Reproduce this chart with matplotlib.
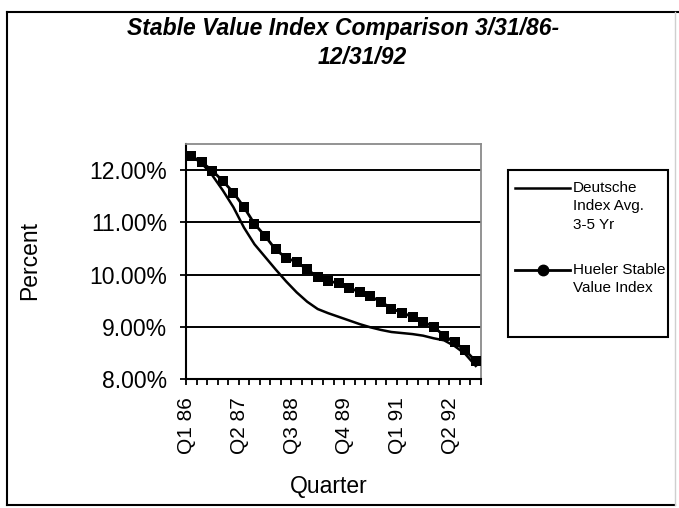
import matplotlib
matplotlib.use('Agg')

import matplotlib.pyplot as plt
from matplotlib.lines import Line2D
from matplotlib.patches import Rectangle
from matplotlib.transforms import ScaledTranslation
import numpy as np

plt.rcParams.update({
    'font.family': ['Liberation Sans', 'DejaVu Sans'],
    'axes.linewidth': 1.5,
})

quarters = ['Q1 86', 'Q2 86', 'Q3 86', 'Q4 86',
            'Q1 87', 'Q2 87', 'Q3 87', 'Q4 87',
            'Q1 88', 'Q2 88', 'Q3 88', 'Q4 88',
            'Q1 89', 'Q2 89', 'Q3 89', 'Q4 89',
            'Q1 90', 'Q2 90', 'Q3 90', 'Q4 90',
            'Q1 91', 'Q2 91', 'Q3 91', 'Q4 91',
            'Q1 92', 'Q2 92', 'Q3 92', 'Q4 92']
labelled = ['Q1 86', 'Q2 87', 'Q3 88', 'Q4 89', 'Q1 91', 'Q2 92']

deutsche = [12.27, 12.13, 11.90, 11.61, 11.29, 10.90, 10.58, 10.34,
            10.10, 9.87, 9.66, 9.48, 9.34, 9.26, 9.19, 9.12,
            9.05, 8.99, 8.94, 8.90, 8.88, 8.86, 8.83, 8.78,
            8.74, 8.63, 8.48, 8.25]
hueler = [12.27, 12.15, 11.99, 11.79, 11.57, 11.29, 10.97, 10.74,
          10.48, 10.32, 10.24, 10.10, 9.95, 9.87, 9.84, 9.75,
          9.66, 9.58, 9.48, 9.35, 9.27, 9.19, 9.10, 9.00,
          8.83, 8.70, 8.55, 8.34]

W, H = 679, 508
fig = plt.figure(figsize=(W / 100, H / 100), dpi=100)
ax = fig.add_axes([186 / W, 1 - 379 / H, 295 / W, 235 / H])

x = np.arange(len(quarters))
ax.plot(x, deutsche, color='black', lw=1.8, zorder=3)
ax.plot(x, hueler, color='black', lw=2.0, marker='s', markersize=7.5,
        markeredgewidth=0, zorder=4)

ax.set_xlim(-0.5, len(quarters) - 0.5)
ax.set_ylim(8, 12.5)
ax.set_yticks([8, 9, 10, 11, 12])
ax.set_yticklabels([f'{v:.2f}%' for v in [8, 9, 10, 11, 12]])
ax.yaxis.grid(True, color='black', lw=1.4)
ax.set_axisbelow(True)

pos = [quarters.index(q) for q in labelled]
ax.set_xticks(pos)
ax.set_xticklabels(labelled, rotation=90, fontsize=15)
ax.set_xticks(np.arange(len(quarters) + 1) - 0.5, minor=True)
ax.tick_params(axis='x', which='major', length=0, pad=13)
ax.tick_params(axis='x', which='minor', direction='out', length=4.5, width=1.3)
ax.tick_params(axis='y', direction='out', length=4.5, width=1.3, pad=9,
               labelsize=16.5)
shift = ScaledTranslation(-0.045, 0, fig.dpi_scale_trans)
for lbl in ax.get_xticklabels():
    lbl.set_transform(lbl.get_transform() + shift)

for side in ['top', 'right']:
    ax.spines[side].set_color('#8a8a8a')
    ax.spines[side].set_linewidth(1.3)

# titles and axis names
fig.text(343 / W, 1 - 28 / H, 'Stable Value Index Comparison 3/31/86-',
         ha='center', va='center', fontsize=16.5, weight='bold', style='italic')
fig.text(362 / W, 1 - 57.5 / H, '12/31/92', ha='center', va='center',
         fontsize=16.5, weight='bold', style='italic')
fig.text(30 / W, 1 - 260 / H, 'Percent', rotation=90, ha='center',
         va='center', fontsize=16.5)
fig.text(329 / W, 1 - 487 / H, 'Quarter', ha='center', va='center',
         fontsize=16.5)

# legend box on the right
def px(xp, yp):
    return xp / W, 1 - yp / H

fig.patches.append(Rectangle(px(508, 337), 160 / W, 167 / H,
                             transform=fig.transFigure, fill=False,
                             edgecolor='black', lw=1.5))
fig.lines.append(Line2D([515 / W, 570 / W], [1 - 188 / H] * 2,
                        transform=fig.transFigure, color='black', lw=1.8))
fig.lines.append(Line2D([515 / W, 570 / W], [1 - 270 / H] * 2,
                        transform=fig.transFigure, color='black', lw=2.0))
fig.lines.append(Line2D([543 / W], [1 - 270 / H], transform=fig.transFigure,
                        color='black', marker='o', markersize=7.5, lw=0))
fig.text(573 / W, 1 - 181 / H, 'Deutsche\nIndex Avg.\n3-5 Yr', ha='left',
         va='top', fontsize=11, linespacing=1.4)
fig.text(573 / W, 1 - 263 / H, 'Hueler Stable\nValue Index', ha='left',
         va='top', fontsize=11, linespacing=1.4)

# chart area frame
fig.lines.append(Line2D([7 / W, 1], [1 - 12 / H] * 2,
                        transform=fig.transFigure, color='black', lw=1.5))
fig.lines.append(Line2D([7 / W] * 2, [1 - 12 / H, 1 - 505 / H],
                        transform=fig.transFigure, color='black', lw=1.5))
fig.lines.append(Line2D([7 / W, 675 / W], [1 - 505 / H] * 2,
                        transform=fig.transFigure, color='black', lw=1.5))
fig.lines.append(Line2D([675 / W] * 2, [1 - 12 / H, 1 - 505 / H],
                        transform=fig.transFigure, color='#cfcfcf', lw=1.0))

fig.savefig('out.png', dpi=100)
